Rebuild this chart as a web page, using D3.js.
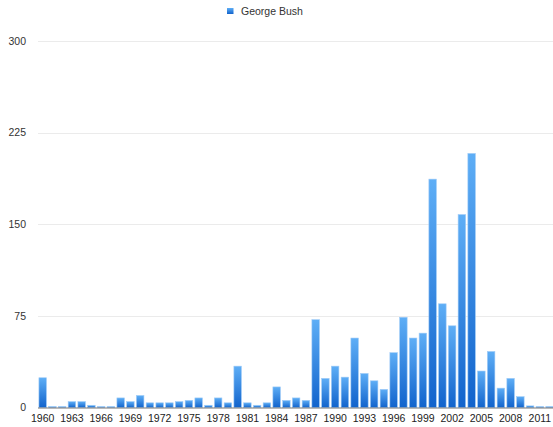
<!DOCTYPE html>
<html>
<head>
<meta charset="utf-8">
<script src="https://cdn.jsdelivr.net/npm/d3@7"></script>
<style>
  html, body { margin: 0; padding: 0; background: #fff; }
  svg { display: block; font-family: "Liberation Sans", Arial, Helvetica, sans-serif; }
</style>
</head>
<body>
<svg id="chart" width="553" height="427"></svg>
<script>
const years = d3.range(1960, 2013).map(String);
const values = [
  24.5, 1, 1, 5, 5, 2, 1, 1, 8, 5,
  10, 4, 4, 4, 5, 6, 8, 2, 8, 4,
  34, 4, 2, 4, 17, 6, 8, 6, 72, 24,
  34, 25, 57, 28, 22, 15, 45, 74, 57, 61,
  187, 85, 67, 158, 208, 30, 46, 16, 24, 9,
  1.5, 1, 1
];
const seriesName = "George Bush";
const yTicks = [0, 75, 150, 225, 300];
const xTickLabels = years.filter((d, i) => i % 3 === 0);

const svg = d3.select("#chart");
const W = 553, H = 427;
const margin = { left: 38, right: -1.5, top: 41, bottom: 19.5 };

const x = d3.scaleBand()
  .domain(years)
  .range([37.8, 554.5])
  .paddingInner(0.23)
  .paddingOuter(0.115);

const y = d3.scaleLinear()
  .domain([0, 300])
  .range([407.7, 41]);

const defs = svg.append("defs");
const grad = defs.append("linearGradient")
  .attr("id", "barGrad")
  .attr("x1", 0).attr("y1", 0).attr("x2", 0).attr("y2", 1);
grad.append("stop").attr("offset", "0%").attr("stop-color", "#5eaef6");
grad.append("stop").attr("offset", "100%").attr("stop-color", "#1163cc");

// gridlines
svg.append("g")
  .selectAll("line")
  .data(yTicks.filter(d => d > 0))
  .join("line")
  .attr("x1", 38).attr("x2", W)
  .attr("y1", d => Math.round(y(d)) + 0.5)
  .attr("y2", d => Math.round(y(d)) + 0.5)
  .attr("stroke", "#ebebeb")
  .attr("stroke-width", 1);

// y labels
svg.append("g")
  .selectAll("text")
  .data(yTicks)
  .join("text")
  .attr("x", 26)
  .attr("y", d => y(d))
  .attr("dy", "0.35em")
  .attr("text-anchor", "end")
  .attr("font-size", 10.5)
  .attr("fill", "#333")
  .text(d => d);

// bars
svg.append("g")
  .selectAll("rect")
  .data(values.map((v, i) => ({ year: years[i], v })))
  .join("rect")
  .attr("x", d => x(d.year))
  .attr("width", x.bandwidth())
  .attr("y", d => y(d.v))
  .attr("height", d => y(0) - y(d.v))
  .attr("fill", "url(#barGrad)")
  .attr("stroke", "#9fcbf7")
  .attr("stroke-width", 0.6);

// x axis baseline
svg.append("line")
  .attr("x1", 38).attr("x2", W)
  .attr("y1", y(0) + 0.3).attr("y2", y(0) + 0.3)
  .attr("stroke", "#777")
  .attr("stroke-width", 1.2);

// x labels
svg.append("g")
  .selectAll("text")
  .data(xTickLabels)
  .join("text")
  .attr("x", d => x(d) + x.bandwidth() / 2)
  .attr("y", 422)
  .attr("text-anchor", "middle")
  .attr("font-size", 10.5)
  .attr("fill", "#222")
  .text(d => d);

// legend
const lg = svg.append("g");
lg.append("rect")
  .attr("x", 227).attr("y", 8)
  .attr("width", 6.5).attr("height", 6)
  .attr("fill", "url(#barGrad)");
lg.append("text")
  .attr("x", 241).attr("y", 11.5)
  .attr("dy", "0.35em")
  .attr("font-size", 10.5)
  .attr("fill", "#333")
  .text(seriesName);
</script>
</body>
</html>
